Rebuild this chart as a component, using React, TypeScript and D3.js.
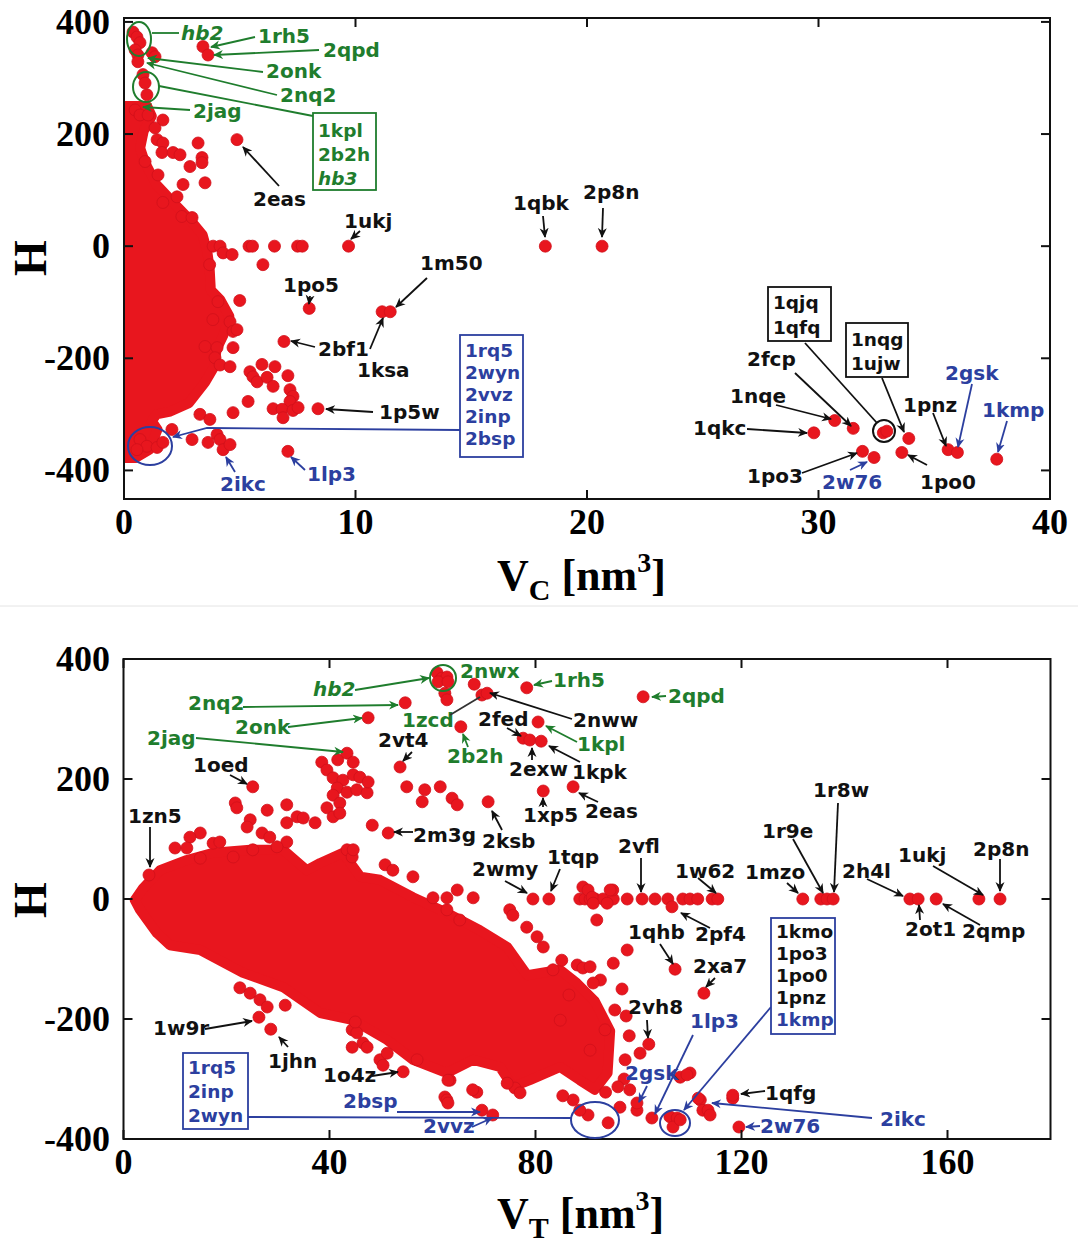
import * as d3 from 'd3';
import * as React from 'react';

const W = 1078;
const H = 1247;

const RED = '#e8161e';
const K = '#111111';
const G = '#1f7d2d';
const B = '#2c3f9f';

// ---- data: top panel (V_C vs H) ----
const topCloud: [number, number][] = [
  [0, 250], [1.0, 250], [1.2, 232], [0.85, 205], [0.7, 175], [0.9, 150], [1.4, 110],
  [2.2, 75], [2.9, 45], [3.4, 20], [3.6, -10], [3.7, -40], [3.75, -78], [4.15, -95],
  [4.55, -125], [4.3, -158], [4.0, -184], [3.9, -215], [3.5, -243], [2.8, -280], [2.0, -295],
  [1.4, -300], [1.2, -312], [1.45, -327], [1.1, -363], [0.48, -378], [0, -378],
];

const topPoints: [number, number][] = [
  [0.39, 382], [0.56, 373], [0.69, 363], [0.48, 350], [0.6, 341], [1.21, 345], [1.34, 338], [0.6, 329],
  [3.41, 356], [3.63, 341],
  [0.82, 306], [0.91, 291], [0.99, 270],
  [0.48, 243], [0.69, 234], [1.04, 234],
  [1.68, 225], [1.34, 211], [1.43, 190], [1.68, 184], [1.64, 167], [2.12, 167], [2.42, 163],
  [3.2, 184], [3.37, 158], [3.37, 149], [2.85, 142], [0.91, 151], [1.47, 127], [2.55, 110],
  [3.5, 113], [4.88, 190], [1.68, 78], [2.29, 88], [2.5, 53], [2.94, 51],
  [3.85, 0], [4.15, 0], [5.4, 0], [5.55, 0], [6.5, 0], [7.5, 0], [7.7, 0], [9.7, 0],
  [6.0, -33], [4.28, -12], [3.7, -33], [4.67, -15],
  [8.0, -111], [11.15, -117], [11.5, -117],
  [5.0, -97], [4.06, -99], [3.84, -131], [4.58, -135], [4.71, -152], [4.88, -149],
  [6.91, -170],
  [3.5, -179], [4.02, -181], [4.71, -181],
  [3.93, -199], [4.15, -212], [4.58, -215],
  [5.96, -211], [6.52, -215],
  [5.44, -224], [5.57, -233], [5.75, -242], [6.18, -234],
  [7.08, -231], [6.44, -250],
  [7.17, -256], [7.3, -268], [7.17, -277],
  [5.36, -277],
  [6.44, -290], [6.83, -291], [7.3, -293], [7.52, -288],
  [6.87, -306], [8.38, -290],
  [4.71, -297], [3.28, -300], [3.71, -309],
  [2.07, -327], [2.94, -345], [3.63, -350], [4.02, -336], [4.15, -345],
  [4.28, -363], [4.58, -354],
  [7.08, -366],
  [0.69, -345], [0.99, -357], [1.43, -359], [1.68, -350], [0.56, -363],
  [18.2, 0], [20.65, 0],
  [29.8, -333], [30.7, -311], [31.5, -325], [32.8, -333], [32.95, -330], [33.9, -343],
  [31.9, -366], [32.4, -377], [33.6, -368], [35.6, -363], [36.0, -368], [37.7, -380],
];

// ---- data: bottom panel (V_T vs H) ----
const bottomCloud: [number, number][] = [
  [2.2, -2], [3.8, 18], [7.1, 48], [12.3, 65], [17.4, 77], [24.6, 82], [31.0, 82],
  [35.6, 48], [38.2, 60], [42.6, 77], [46.0, 37], [49.8, 32], [56.2, 3], [62.8, -23],
  [69.2, -52], [74.5, -80], [78.4, -127], [84.8, -118], [88.0, -140], [91.5, -170],
  [94.5, -220], [94.0, -290], [91.5, -318], [88.6, -302], [84.8, -280],
  [78.9, -302], [75.6, -313], [73.1, -280], [67.9, -268], [62.8, -290], [56.2, -268],
  [51.2, -235], [44.6, -202], [38.2, -190], [31.0, -147], [23.2, -123], [14.9, -85],
  [9.0, -77], [6.5, -57], [3.2, -18],
];

const bottomPoints: [number, number][] = [
  [4.95, 40], [25.1, 187], [47.5, 302],
  [38.5, 228], [41.6, 232], [43.4, 243], [44.6, 228], [39.5, 215], [40.7, 202], [42.6, 198],
  [44.6, 207], [45.9, 203], [41.5, 185], [43.4, 178], [45.3, 182], [40.7, 173], [42.0, 160],
  [47.3, 177], [47.5, 195],
  [53.7, 220],
  [21.7, 160], [22.0, 152], [27.9, 148], [31.7, 157], [24.6, 132], [24.0, 120], [31.7, 127],
  [33.7, 137], [34.9, 135], [37.2, 127], [39.5, 152], [40.7, 137], [42.0, 143], [48.3, 123],
  [51.4, 110], [26.9, 110], [28.4, 103], [31.7, 95], [14.9, 110], [12.9, 103], [10.0, 85],
  [12.3, 85], [17.4, 93], [18.7, 95], [14.9, 68], [21.3, 70], [25.1, 82], [29.8, 87],
  [43.4, 82], [44.4, 70], [44.6, 82],
  [55.0, 187], [58.5, 182], [61.5, 187], [58.0, 162], [63.8, 168], [64.8, 157], [70.8, 162],
  [50.8, 57], [52.3, 48], [56.2, 37], [60.1, 2], [62.8, 2], [64.8, 15], [67.9, 2],
  [62.8, -18], [65.3, -35],
  [60.9, 377], [61.8, 368], [62.8, 370], [61.1, 362], [63.0, 362], [62.4, 343], [62.8, 332],
  [68.1, 358], [78.3, 352], [69.6, 340], [70.6, 343], [100.9, 337], [54.7, 327],
  [65.5, 287], [80.5, 295], [77.6, 268], [78.9, 265], [81.1, 263], [81.5, 180], [87.3, 187],
  [79.5, 0], [82.6, 0], [88.6, 0], [89.6, 0], [90.6, 0], [91.6, 0], [93.1, 0], [95.1, 0],
  [97.8, 0], [100.7, 0], [103.2, 0], [105.7, 0], [108.6, 0], [110.0, 0], [111.5, 0],
  [114.3, 0], [115.4, 0],
  [131.9, 0], [135.4, 0], [136.6, 0], [137.8, 0], [152.7, 0], [154.3, 0], [157.8, 0],
  [166.1, 0], [170.2, 0],
  [89.2, 20], [90.2, 15], [95.0, 15], [106.5, -13], [91.0, 3], [91.2, -7], [91.9, -35],
  [94.5, 15], [93.9, -7], [97.8, -85], [107.1, -117], [112.7, -157], [102.0, -242],
  [100.3, -257], [108.1, -297], [110.0, -290], [109.4, -293], [99.7, -352], [99.7, -340],
  [102.6, -365], [106.1, -363], [107.5, -365], [106.7, -380], [108.1, -368],
  [118.3, -332], [118.3, -327],
  [112.0, -335], [112.5, -352], [113.5, -352], [113.9, -360], [111.6, -332],
  [119.5, -380],
  [90.2, -360], [94.1, -373], [88.6, -352], [87.3, -335],
  [69.6, -352], [71.7, -360], [85.3, -328], [76.0, -315], [77.0, -323], [74.5, -307],
  [68.6, -322], [62.4, -330], [62.8, -335], [63.0, -340], [63.4, -302], [54.3, -288],
  [96.4, -347], [98.3, -318],
  [85.1, -102], [88.1, -110], [89.2, -115], [90.6, -113], [83.4, -118],
  [78.3, -47], [81.5, -80], [80.3, -63], [75.0, -18], [75.6, -27],
  [44.4, -218], [45.3, -223], [46.5, -240], [49.8, -268], [51.2, -257], [57.0, -268],
  [63.0, -302], [67.8, -318],
  [26.3, -197], [28.6, -217], [31.4, -177], [22.6, -148], [24.6, -157], [26.5, -168],
  [27.9, -180],
  [45.0, -205], [44.4, -247], [47.3, -247], [50.4, -277],
  [92.6, -135], [95.4, -185], [93.5, -218], [90.6, -252], [97.4, -268], [84.8, -202],
  [95.1, -107], [96.8, -150], [97.6, -195], [98.2, -228], [97.2, -300], [96.0, -313],
  [93.6, -322], [91.2, -140], [86.5, -160],
];

const topXTicks = [0, 10, 20, 30, 40];
const bottomXTicks = [0, 40, 80, 120, 160];
const yTicks = [-400, -200, 0, 200, 400];

// ---- annotations (page pixels) ----
type Pt = [number, number];
interface Note { t: string; x: number; y: number; c: string; it?: boolean; l?: Pt[]; head?: boolean; }
interface Box { lines: string[]; colors: string[]; italic?: boolean[]; x: number; y: number; w: number; h: number; c: string; base: number[]; }
interface Ell { cx: number; cy: number; rx: number; ry: number; c: string; }

const topNotes: Note[] = [
  { t: 'hb2', x: 181, y: 40, c: G, it: true, l: [[179, 33], [152, 33]], head: false },
  { t: '1rh5', x: 258, y: 43, c: G, l: [[255, 37], [211, 47]] },
  { t: '2qpd', x: 323, y: 57, c: G, l: [[319, 50], [214, 55]] },
  { t: '2onk', x: 266, y: 78, c: G, l: [[263, 72], [148, 58]] },
  { t: '2nq2', x: 280, y: 102, c: G, l: [[277, 95], [147, 63]] },
  { t: '2jag', x: 193, y: 118, c: G, l: [[190, 110], [143, 107]] },
  { t: '', x: 0, y: 0, c: G, l: [[159, 86], [313, 116]], head: false },
  { t: '2eas', x: 253, y: 206, c: K, l: [[279, 186], [243, 147]] },
  { t: '1ukj', x: 344, y: 228, c: K, l: [[360, 231], [351, 239]] },
  { t: '1po5', x: 283, y: 292, c: K, l: [[310, 296], [309, 304]] },
  { t: '1m50', x: 420, y: 270, c: K, l: [[427, 278], [396, 307]] },
  { t: '2bf1', x: 318, y: 356, c: K, l: [[315, 347], [291, 341]] },
  { t: '1ksa', x: 357, y: 377, c: K, l: [[370, 349], [383, 318]] },
  { t: '1p5w', x: 379, y: 419, c: K, l: [[373, 412], [326, 409]] },
  { t: '', x: 0, y: 0, c: B, l: [[460, 430], [207, 428], [173, 437]] },
  { t: '2ikc', x: 220, y: 491, c: B, l: [[235, 472], [226, 457]] },
  { t: '1lp3', x: 307, y: 481, c: B, l: [[305, 470], [291, 457]] },
  { t: '1qbk', x: 513, y: 210, c: K, l: [[543, 216], [545, 237]] },
  { t: '2p8n', x: 583, y: 199, c: K, l: [[603, 208], [602, 237]] },
  { t: '', x: 0, y: 0, c: K, l: [[805, 343], [877, 423]], head: false },
  { t: '', x: 0, y: 0, c: K, l: [[882, 378], [904, 432]] },
  { t: '2fcp', x: 747, y: 366, c: K, l: [[795, 373], [851, 426]] },
  { t: '1nqe', x: 730, y: 403, c: K, l: [[776, 405], [831, 419]] },
  { t: '1qkc', x: 693, y: 435, c: K, l: [[747, 429], [807, 433]] },
  { t: '1po3', x: 747, y: 483, c: K, l: [[802, 473], [857, 453]] },
  { t: '2w76', x: 822, y: 489, c: B, l: [[850, 470], [867, 462]] },
  { t: '1po0', x: 920, y: 489, c: K, l: [[927, 465], [908, 455]] },
  { t: '1pnz', x: 903, y: 412, c: K, l: [[933, 413], [946, 446]] },
  { t: '2gsk', x: 945, y: 380, c: B, l: [[972, 384], [958, 447]] },
  { t: '1kmp', x: 982, y: 417, c: B, l: [[1007, 421], [998, 452]] },
];

const topBoxes: Box[] = [
  { lines: ['1kpl', '2b2h', 'hb3'], colors: [G, G, G], italic: [false, false, true], x: 313, y: 113, w: 63, h: 77, c: G, base: [137, 161, 185] },
  { lines: ['1rq5', '2wyn', '2vvz', '2inp', '2bsp'], colors: [B, B, B, B, B], x: 460, y: 335, w: 63, h: 122, c: B, base: [357, 379, 401, 423, 445] },
  { lines: ['1qjq', '1qfq'], colors: [K, K], x: 768, y: 287, w: 63, h: 54, c: K, base: [309, 334] },
  { lines: ['1nqg', '1ujw'], colors: [K, K], x: 846, y: 323, w: 62, h: 54, c: K, base: [346, 370] },
];

const topEllipses: Ell[] = [
  { cx: 139, cy: 39, rx: 12, ry: 17, c: G },
  { cx: 146, cy: 87, rx: 13, ry: 15, c: G },
  { cx: 150, cy: 446, rx: 22, ry: 19, c: B },
  { cx: 884, cy: 431, rx: 11, ry: 11, c: K },
];

const bottomNotes: Note[] = [
  { t: '2nq2', x: 188, y: 710, c: G, l: [[243, 707], [398, 705]] },
  { t: 'hb2', x: 313, y: 696, c: G, it: true, l: [[355, 690], [429, 678]] },
  { t: '2onk', x: 235, y: 734, c: G, l: [[288, 727], [362, 718]] },
  { t: '2jag', x: 147, y: 745, c: G, l: [[196, 738], [343, 752]] },
  { t: '1oed', x: 193, y: 772, c: K, l: [[230, 775], [247, 784]] },
  { t: '1zn5', x: 128, y: 823, c: K, l: [[150, 827], [150, 867]] },
  { t: '2vt4', x: 378, y: 747, c: K, l: [[412, 752], [403, 761]] },
  { t: '2nwx', x: 460, y: 678, c: G },
  { t: '1rh5', x: 553, y: 687, c: G, l: [[552, 681], [534, 685]] },
  { t: '2qpd', x: 668, y: 703, c: G, l: [[666, 696], [652, 697]] },
  { t: '1zcd', x: 402, y: 727, c: G },
  { t: '', x: 0, y: 0, c: '#333', l: [[450, 715], [480, 697]], head: false },
  { t: '2nww', x: 573, y: 727, c: K, l: [[572, 719], [490, 693]] },
  { t: '2fed', x: 478, y: 726, c: K, l: [[507, 728], [521, 736]] },
  { t: '1kpl', x: 577, y: 751, c: G, l: [[577, 742], [546, 726]] },
  { t: '2b2h', x: 447, y: 763, c: G, l: [[468, 747], [463, 734]] },
  { t: '2exw', x: 509, y: 776, c: K, l: [[532, 760], [532, 748]] },
  { t: '1kpk', x: 572, y: 779, c: K, l: [[580, 762], [549, 746]] },
  { t: '1xp5', x: 523, y: 822, c: K, l: [[543, 807], [543, 798]] },
  { t: '2eas', x: 585, y: 818, c: K, l: [[598, 802], [579, 793]] },
  { t: '2m3g', x: 413, y: 842, c: K, l: [[413, 832], [394, 832]] },
  { t: '2ksb', x: 482, y: 848, c: K, l: [[502, 830], [492, 811]] },
  { t: '2wmy', x: 472, y: 876, c: K, l: [[505, 881], [527, 893]] },
  { t: '1tqp', x: 547, y: 864, c: K, l: [[560, 869], [551, 891]] },
  { t: '2vfl', x: 618, y: 853, c: K, l: [[641, 858], [641, 892]] },
  { t: '1w62', x: 675, y: 878, c: K, l: [[698, 878], [716, 893]] },
  { t: '2pf4', x: 695, y: 941, c: K, l: [[710, 928], [681, 913]] },
  { t: '1qhb', x: 628, y: 939, c: K, l: [[660, 944], [673, 964]] },
  { t: '2xa7', x: 693, y: 973, c: K, l: [[715, 978], [706, 987]] },
  { t: '1mzo', x: 745, y: 879, c: K, l: [[787, 883], [798, 893]] },
  { t: '1r9e', x: 762, y: 838, c: K, l: [[793, 839], [823, 893]] },
  { t: '1r8w', x: 813, y: 797, c: K, l: [[838, 803], [834, 892]] },
  { t: '2h4l', x: 842, y: 878, c: K, l: [[867, 879], [903, 896]] },
  { t: '1ukj', x: 898, y: 862, c: K, l: [[933, 866], [983, 895]] },
  { t: '2p8n', x: 973, y: 856, c: K, l: [[1000, 859], [1000, 891]] },
  { t: '2ot1', x: 905, y: 936, c: K, l: [[920, 920], [919, 905]] },
  { t: '2qmp', x: 962, y: 938, c: K, l: [[980, 925], [943, 904]] },
  { t: '', x: 0, y: 0, c: B, l: [[771, 1007], [684, 1110]] },
  { t: '1lp3', x: 690, y: 1028, c: B, l: [[693, 1035], [655, 1114]] },
  { t: '1qfg', x: 765, y: 1100, c: K, l: [[765, 1091], [741, 1094]] },
  { t: '2ikc', x: 880, y: 1126, c: B, l: [[872, 1118], [712, 1103]] },
  { t: '2w76', x: 760, y: 1133, c: B, l: [[760, 1126], [746, 1127]] },
  { t: '2vh8', x: 628, y: 1014, c: K, l: [[647, 1020], [648, 1038]] },
  { t: '2gsk', x: 625, y: 1080, c: B, l: [[647, 1086], [639, 1102]] },
  { t: '', x: 0, y: 0, c: B, l: [[248, 1117], [571, 1118]], head: false },
  { t: '2bsp', x: 343, y: 1108, c: B, l: [[397, 1112], [480, 1112]] },
  { t: '2vvz', x: 423, y: 1133, c: B, l: [[472, 1127], [492, 1118]] },
  { t: '1w9r', x: 153, y: 1035, c: K, l: [[205, 1029], [252, 1021]] },
  { t: '1jhn', x: 268, y: 1068, c: K, l: [[288, 1047], [279, 1037]] },
  { t: '1o4z', x: 323, y: 1082, c: K, l: [[372, 1076], [398, 1072]] },
];

const bottomBoxes: Box[] = [
  { lines: ['1kmo', '1po3', '1po0', '1pnz', '1kmp'], colors: [K, K, K, K, B], x: 771, y: 918, w: 64, h: 116, c: B, base: [938, 960, 982, 1004, 1026] },
  { lines: ['1rq5', '2inp', '2wyn'], colors: [B, B, B], x: 183, y: 1053, w: 65, h: 76, c: B, base: [1074, 1098, 1122] },
];

const bottomEllipses: Ell[] = [
  { cx: 443, cy: 678, rx: 13, ry: 13, c: G },
  { cx: 675, cy: 1123, rx: 15, ry: 13, c: B },
  { cx: 595, cy: 1120, rx: 24, ry: 18, c: B },
];

const SERIF = '"Liberation Serif", "Times New Roman", serif';
const SANS = '"DejaVu Sans", sans-serif';
const markerId = (c: string) => 'ah' + c.replace('#', '');

interface PanelProps {
  id: string;
  xDomain: [number, number];
  yDomain: [number, number];
  left: number; right: number; top: number; bottom: number;
  xTicks: number[];
  cloud: [number, number][];
  points: [number, number][];
  sub: string;
  titleY: number;
  hY: number;
  notes: Note[];
  boxes: Box[];
  ellipses: Ell[];
}

function Panel(p: PanelProps) {
  const x = d3.scaleLinear().domain(p.xDomain).range([p.left, p.right]);
  const y = d3.scaleLinear().domain(p.yDomain).range([p.bottom, p.top]);
  const line = d3.line<[number, number]>()
    .x(d => x(d[0]))
    .y(d => y(d[1]))
    .curve(d3.curveLinearClosed);
  const tk = 9;
  return (
    <g>
      <clipPath id={p.id}>
        <rect x={p.left} y={p.top} width={p.right - p.left} height={p.bottom - p.top} />
      </clipPath>
      <g clipPath={`url(#${p.id})`}>
        <path d={line(p.cloud) || ''} fill={RED} stroke={RED} strokeWidth={10} strokeLinejoin="round" />
        {p.points.map((d, i) => (
          <circle key={i} cx={x(d[0])} cy={y(d[1])} r={6} fill={RED} stroke="#d0101a" strokeWidth={0.8} />
        ))}
      </g>
      <rect x={p.left} y={p.top} width={p.right - p.left} height={p.bottom - p.top} fill="none" stroke="#111" strokeWidth={2} />
      {p.xTicks.map(t => (
        <g key={'x' + t}>
          <line x1={x(t)} x2={x(t)} y1={p.bottom} y2={p.bottom - tk} stroke="#111" strokeWidth={2} />
          <line x1={x(t)} x2={x(t)} y1={p.top} y2={p.top + tk} stroke="#111" strokeWidth={2} />
          <text x={x(t)} y={p.bottom + 35} textAnchor="middle" fontFamily={SERIF} fontWeight="bold" fontSize={36}>{t}</text>
        </g>
      ))}
      {yTicks.map(t => (
        <g key={'y' + t}>
          <line x1={p.left} x2={p.left + tk} y1={y(t)} y2={y(t)} stroke="#111" strokeWidth={2} />
          <line x1={p.right} x2={p.right - tk} y1={y(t)} y2={y(t)} stroke="#111" strokeWidth={2} />
          <text x={110} y={y(t) + 12} textAnchor="end" fontFamily={SERIF} fontWeight="bold" fontSize={36}>{t}</text>
        </g>
      ))}
      <text transform={`translate(46,${p.hY}) rotate(-90)`} textAnchor="middle" fontFamily={SERIF} fontWeight="bold" fontSize={46}>H</text>
      <text x={497} y={p.titleY} fontFamily={SERIF} fontWeight="bold" fontSize={44}>
        V<tspan fontSize={30} dy={10}>{p.sub}</tspan>
        <tspan dy={-10}> [nm</tspan>
        <tspan fontSize={28} dy={-18}>3</tspan>
        <tspan dy={18}>]</tspan>
      </text>
      {p.ellipses.map((e, i) => (
        <ellipse key={'e' + i} cx={e.cx} cy={e.cy} rx={e.rx} ry={e.ry} fill="none" stroke={e.c} strokeWidth={2} />
      ))}
      {p.notes.map((n, i) => (
        <g key={'n' + i}>
          {n.l && (
            <polyline
              points={n.l.map(q => q.join(',')).join(' ')}
              fill="none"
              stroke={n.c}
              strokeWidth={1.8}
              markerEnd={n.head === false ? undefined : `url(#${markerId(n.c)})`}
            />
          )}
          {n.t && (
            <text x={n.x} y={n.y} fill={n.c} fontFamily={SANS} fontWeight="bold" fontStyle={n.it ? 'italic' : 'normal'} fontSize={20}>{n.t}</text>
          )}
        </g>
      ))}
      {p.boxes.map((b, i) => (
        <g key={'b' + i}>
          <rect x={b.x} y={b.y} width={b.w} height={b.h} fill="#fff" stroke={b.c} strokeWidth={1.8} />
          {b.lines.map((s, j) => (
            <text key={j} x={b.x + 5} y={b.base[j]} fill={b.colors[j]} fontFamily={SANS} fontWeight="bold"
              fontStyle={b.italic && b.italic[j] ? 'italic' : 'normal'} fontSize={18.5}>{s}</text>
          ))}
        </g>
      ))}
    </g>
  );
}

export default function App() {
  return (
    <div>
      <style>{'body{margin:0;background:#fff}'}</style>
      <svg width={W} height={H} viewBox={`0 0 ${W} ${H}`} style={{ display: 'block', background: '#fff' }}>
        <defs>
          {[K, G, B, '#333'].map(c => (
            <marker key={c} id={markerId(c)} viewBox="0 0 10 10" refX={9} refY={5} markerWidth={10} markerHeight={10}
              markerUnits="userSpaceOnUse" orient="auto">
              <path d="M0,0.5 L10,5 L0,9.5 L3,5 Z" fill={c} />
            </marker>
          ))}
        </defs>
        <Panel
          id="clipTop"
          xDomain={[0, 40]}
          yDomain={[-451, 407]}
          left={124} right={1050} top={18} bottom={499}
          xTicks={topXTicks}
          cloud={topCloud}
          points={topPoints}
          sub="C"
          titleY={590}
          hY={258}
          notes={topNotes}
          boxes={topBoxes}
          ellipses={topEllipses}
        />
        <line x1={0} x2={W} y1={606} y2={606} stroke="#e4e4e4" strokeWidth={1} />
        <Panel
          id="clipBottom"
          xDomain={[0, 180]}
          yDomain={[-400, 400]}
          left={123.5} right={1050.5} top={659} bottom={1139}
          xTicks={bottomXTicks}
          cloud={bottomCloud}
          points={bottomPoints}
          sub="T"
          titleY={1228}
          hY={900}
          notes={bottomNotes}
          boxes={bottomBoxes}
          ellipses={bottomEllipses}
        />
      </svg>
    </div>
  );
}
